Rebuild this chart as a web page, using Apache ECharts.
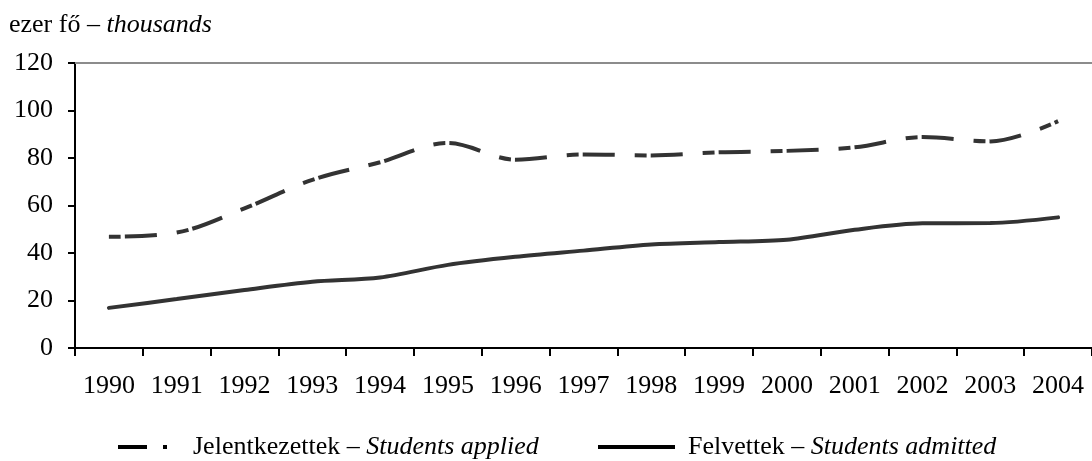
<!DOCTYPE html>
<html>
<head>
<meta charset="utf-8">
<script src="https://cdn.jsdelivr.net/npm/echarts@6/dist/echarts.min.js"></script>
<style>
html,body{margin:0;padding:0;background:#fff;}
#chart{width:1092px;height:461px;}
</style>
</head>
<body>
<div id="chart"></div>
<script>
const years = ['1990','1991','1992','1993','1994','1995','1996','1997','1998','1999','2000','2001','2002','2003','2004'];
const applied = [46.8, 48.6, 58.8, 70.8, 78.2, 86.3, 79.3, 81.5, 81.1, 82.4, 83.0, 84.5, 88.8, 87.0, 95.5];
const admitted = [16.9, 20.6, 24.4, 27.9, 29.7, 35.0, 38.4, 41.0, 43.6, 44.6, 45.6, 49.8, 52.5, 52.6, 55.0];
const yTicks = [0, 20, 40, 60, 80, 100, 120];
const appliedName = 'Jelentkezettek – Students applied';
const admittedName = 'Felvettek – Students admitted';

const FONT = '"Liberation Serif", "Times New Roman", serif';
const FS = 26;
const chart = echarts.init(document.getElementById('chart'));
chart.setOption({
  animation: false,
  backgroundColor: '#fff',
  textStyle: { fontFamily: FONT },
  title: {
    text: '{n|ezer fő – }{i|thousands}',
    left: 9, top: 12, padding: 0,
    textStyle: {
      rich: {
        n: { fontFamily: FONT, fontSize: FS, fontWeight: 'normal', color: '#000' },
        i: { fontFamily: FONT, fontSize: FS, fontWeight: 'normal', color: '#000', fontStyle: 'italic' }
      }
    }
  },
  grid: { left: 75, right: 0, top: 63, bottom: 113, containLabel: false },
  legend: [
    {
      data: [{ name: appliedName, icon: 'path://M0,0 H29 V4 H0 Z M45,0 H49 V4 H45 Z' }],
      left: 118, top: 434, padding: 0,
      itemWidth: 49, itemHeight: 4,
      itemStyle: { color: '#000' },
      formatter: function () { return '{n|Jelentkezettek – }{i|Students applied}'; },
      textStyle: {
        rich: {
          n: { fontFamily: FONT, fontSize: FS, color: '#000', padding: [0, 0, 0, 21] },
          i: { fontFamily: FONT, fontSize: FS, color: '#000', fontStyle: 'italic' }
        }
      }
    },
    {
      data: [{ name: admittedName, icon: 'rect' }],
      left: 598, top: 434, padding: 0,
      itemWidth: 77, itemHeight: 4,
      itemStyle: { color: '#000' },
      formatter: function () { return '{n|Felvettek – }{i|Students admitted}'; },
      textStyle: {
        rich: {
          n: { fontFamily: FONT, fontSize: FS, color: '#000', padding: [0, 0, 0, 8] },
          i: { fontFamily: FONT, fontSize: FS, color: '#000', fontStyle: 'italic' }
        }
      }
    }
  ],
  xAxis: [
    {
      type: 'category', data: years, boundaryGap: true,
      axisLine: { lineStyle: { color: '#000', width: 2 } },
      axisTick: { show: true, interval: 0, length: 8, lineStyle: { color: '#000', width: 2 } },
      axisLabel: { interval: 0, color: '#000', fontSize: FS, fontFamily: FONT, margin: 25 },
      splitLine: { show: false }
    },
    {
      type: 'category', data: years, position: 'top', boundaryGap: true,
      axisLine: { show: true, lineStyle: { color: '#8c8c8c', width: 2 } },
      axisTick: { show: false }, axisLabel: { show: false }, splitLine: { show: false }
    }
  ],
  yAxis: {
    type: 'value', min: yTicks[0], max: yTicks[yTicks.length - 1], interval: 20,
    axisLine: { show: true, lineStyle: { color: '#000', width: 2 } },
    axisTick: { show: true, length: 7, lineStyle: { color: '#000', width: 2 } },
    axisLabel: { color: '#000', fontSize: FS, fontFamily: FONT, margin: 22 },
    splitLine: { show: false }
  },
  series: [
    {
      name: appliedName, type: 'line', data: applied, smooth: 0.35,
      symbol: 'none', color: '#333',
      lineStyle: { color: '#333', width: 4, type: [12, 4, 32, 20], cap: 'butt' }
    },
    {
      name: admittedName, type: 'line', data: admitted, smooth: 0.3,
      symbol: 'none', color: '#333',
      lineStyle: { color: '#333', width: 4, cap: 'round' }
    }
  ]
});
</script>
</body>
</html>
